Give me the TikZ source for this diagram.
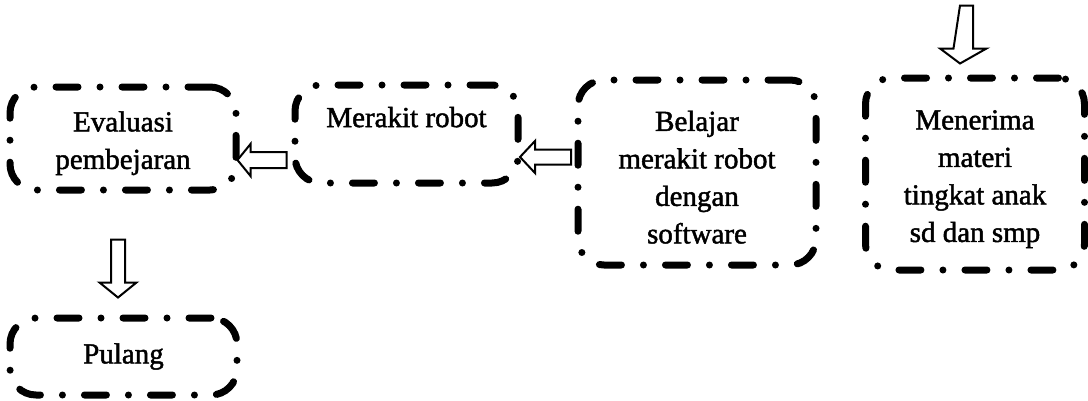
\documentclass[tikz,border=0pt]{standalone}
\usepackage{fontspec}
\setmainfont{Liberation Serif}
\newfontfamily\scanfont{Liberation Serif}[FakeBold=1.6]
\newcommand{\topstrut}{\rule{0pt}{29.5pt}}
\usetikzlibrary{calc}
\tikzset{
  box/.style={draw=black, line width=7pt, line cap=round,
    dash pattern=on 22pt off 22pt on 0pt off 22pt,
    rounded corners=26pt, align=center, inner sep=0pt,
    font=\scanfont\fontsize{29}{37.5}\selectfont},
  blockarrow/.style={draw=black, line width=2pt, line join=miter, fill=white}
}
\begin{document}
\begin{tikzpicture}[x=1pt,y=-1pt]
\useasboundingbox (0,0) rectangle (1088,400);
\node[box, minimum width=226pt, minimum height=103pt] (b1) at (123,138.5) {\topstrut Evaluasi\\pembejaran};
\node[box, minimum width=223pt, minimum height=98pt, text depth=34pt] (b2) at (406.5,134) {Merakit robot};
\node[box, minimum width=238pt, minimum height=185pt] (b3) at (697,172.5) {\topstrut Belajar\\merakit robot\\dengan\\software};
\node[box, minimum width=219pt, minimum height=192pt] (b4) at (975,174) {\topstrut Menerima\\materi\\tingkat anak\\sd dan smp};
\node[box, minimum width=227pt, minimum height=77pt] (b5) at (123.5,356.5) {Pulang};
\coordinate (start) at ($(b4.north)+(-15,-69)$);
% arrow b2 -> b1
\draw[blockarrow] ($(b1.east)+(-2,21.5)$) -- ++(13,-16) -- ++(0,8) -- ++(36,0) -- ++(0,16) -- ++(-36,0) -- ++(0,8) -- cycle;
% arrow b3 -> b2
\draw[blockarrow] ($(b2.east)+(-1.5,23)$) -- ++(15,-16) -- ++(0,8.5) -- ++(36,0) -- ++(0,15) -- ++(-36,0) -- ++(0,8.5) -- cycle;
% arrow start -> b4
\draw[blockarrow] ($(b4.north)+(-15,-11)$) -- ++(-20,-15) -- ++(13.5,0) -- (start) -- ++(13,0) -- ++(0,43) -- ++(13.5,0) -- cycle;
% arrow b1 -> b5
\draw[blockarrow] ($(b5.north)+(-5.5,-17)$) -- ++(-18.5,-15) -- ++(11.5,0) -- ++(0,-43) -- ++(14,0) -- ++(0,43) -- ++(11.5,0) -- cycle;
\end{tikzpicture}
\end{document}
